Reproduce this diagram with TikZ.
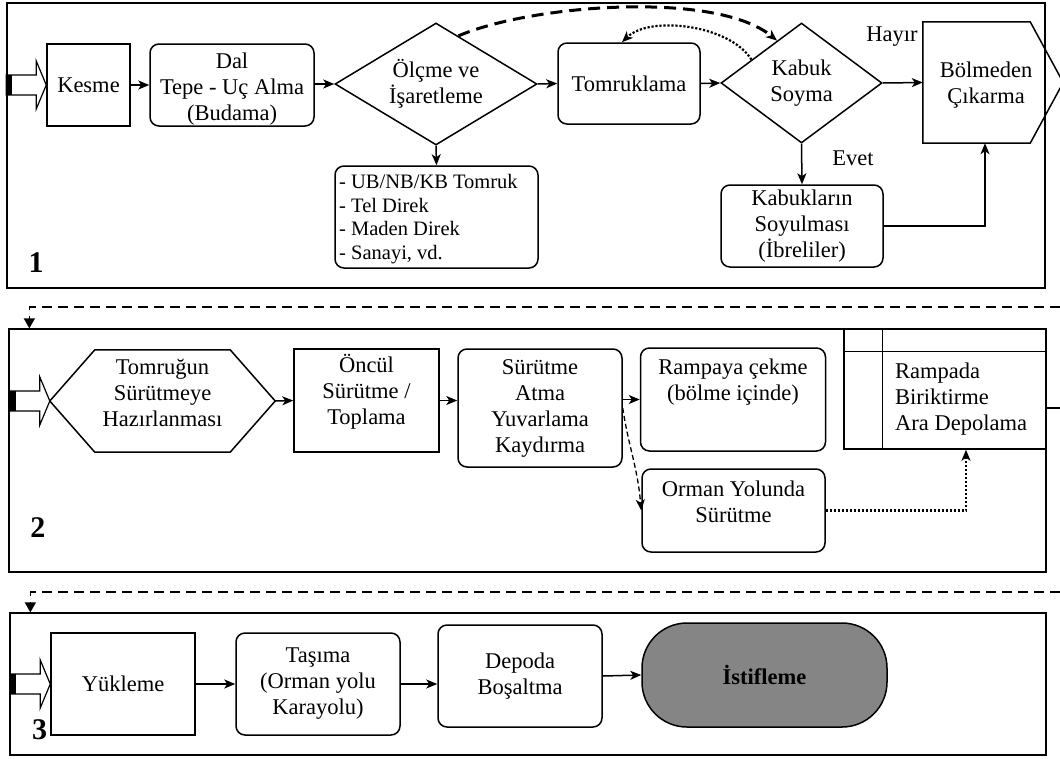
\documentclass[tikz,border=0pt]{standalone}
\usepackage{fontspec}
\setmainfont{Liberation Serif}
\usetikzlibrary{arrows.meta,calc,shapes.geometric}

\tikzset{
  box/.style={draw, line width=1.5pt, inner sep=2pt, align=center},
  rbox/.style={box, rounded corners=9pt},
  dia/.style={draw, diamond, line width=1.5pt, inner sep=0pt, align=center},
  ghost/.style={inner sep=0pt, align=center},
  panel/.style={draw, line width=1.3pt, inner sep=0pt},
  num/.style={font=\fontsize{30}{30}\selectfont\bfseries},
  arr/.style={line width=1.5pt, -{Stealth[length=11pt,width=9pt,inset=3pt]}},
  dots/.style={arr, line width=2.2pt, dash pattern=on 2.2pt off 1.8pt},
  link/.style={line width=1.6pt, dash pattern=on 10pt off 6pt, -{Triangle[length=10pt,width=11pt]}}
}

\begin{document}
\begin{tikzpicture}[x=1pt, y=-1pt, font=\fontsize{22.5}{26}\selectfont]
  \path[use as bounding box, fill=white] (0,0) rectangle (1060,758);
  % panels
  \node[panel, minimum width=1038pt, minimum height=285pt] (p1) at (526,145.5) {};
  \node[panel, minimum width=1037pt, minimum height=243pt] (p2) at (527.5,450.5) {};
  \node[panel, minimum width=1036pt, minimum height=142pt] (p3) at (528,684) {};
  \node[num] (n1) at (36,263) {1};
  \node[num] (n2) at (38,528) {2};
  \node[num] (n3) at (39.5,730) {3};

  % 1
  \node[box, minimum width=83pt, minimum height=82pt] (kes) at (88.5,85) {Kesme};
  \node[rbox, minimum width=164pt, minimum height=82pt] (dal) at (232,85) {};
  \node[ghost] (daltxt) at (232,89) {Dal\\Tepe - Uç Alma\\(Budama)};
  \node[dia, aspect=1.65, minimum width=202pt, minimum height=122pt] (olc) at (436,84) {Ölçme ve\\İşaretleme};
  \node[rbox, minimum width=203pt, minimum height=102pt] (lst) at (436.5,217) {};
  \node[ghost, align=left, anchor=west, font=\fontsize{20.5}{23.5}\selectfont] (lsttxt) at (339,219)
    {- UB/NB/KB Tomruk\\- Tel Direk\\- Maden Direk\\- Sanayi, vd.};
  \node[rbox, minimum width=142pt, minimum height=81pt] (tomr) at (629,83.5) {Tomruklama};
  \node[dia, aspect=1.35, minimum width=161pt, minimum height=120pt] (kab) at (801.5,83) {Kabuk\\Soyma};
  \node[ghost, minimum width=140pt, minimum height=121pt] (bolme) at (993,82.5) {};
  \node[ghost] (bolmetxt) at (986,85) {Bölmeden\\Çıkarma};
  \draw[line width=1.5pt] (bolme.north west) -- ([xshift=-33pt]bolme.north east) -- (bolme.east)
    -- ([xshift=-33pt]bolme.south east) -- (bolme.south west) -- cycle;
  \node[rbox, minimum width=162pt, minimum height=82pt] (kabs) at (802,226) {Kabukların\\Soyulması\\(İbreliler)};
  \node (hayir) at (892,37) {Hayır};
  \node (evet) at (853,158) {Evet};

  \draw[arr] (kes.east) -- (dal.west);
  \draw[arr] (dal.east |- olc.west) -- (olc.west);
  \draw[arr] (olc.east) -- (tomr.west);
  \draw[arr] (olc.south) -- (lst.north);
  \draw[arr] (tomr.east) -- (kab.west);
  \draw[arr] (kab.east) -- (bolme.west);
  \draw[arr] (kab.south) -- (kabs.north);
  \draw[arr] (kabs.east) -| ([xshift=-8pt]bolme.south);
  \draw[arr, line width=3pt, dash pattern=on 12pt off 7pt] (olc.65) .. controls (530,5) and (715,-10) .. (kab.120);
  \draw[dots] (kab.155) .. controls (730,25) and (650,15) .. ([xshift=-7pt]tomr.north);

  % 2
  \node[ghost, minimum width=225pt, minimum height=102pt] (hex) at (162.5,401) {};
  \node[ghost] (hextxt) at (162.5,393) {Tomruğun\\Sürütmeye\\Hazırlanması};
  \draw[line width=1.5pt] (hex.west) -- ([xshift=45pt]hex.north west) -- ([xshift=-45pt]hex.north east)
    -- (hex.east) -- ([xshift=-45pt]hex.south east) -- ([xshift=45pt]hex.south west) -- cycle;
  \node[box, minimum width=145pt, minimum height=103pt] (onc) at (366.5,400.5) {};
  \node[ghost] (onctxt) at (366.5,392) {Öncül\\Sürütme /\\Toplama};
  \node[rbox, minimum width=164pt, minimum height=118pt] (sur) at (540,408) {Sürütme\\Atma\\Yuvarlama\\Kaydırma};
  \node[rbox, minimum width=185pt, minimum height=103pt] (ramp) at (733,399.5) {};
  \node[ghost] (ramptxt) at (733,382) {Rampaya çekme\\(bölme içinde)};
  \node[rbox, minimum width=183pt, minimum height=83pt] (orm) at (733.5,510.5) {};
  \node[ghost] (ormtxt) at (733.5,502) {Orman Yolunda\\Sürütme};
  \node[box, minimum width=202pt, minimum height=120pt] (ramda) at (945,389) {};
  \draw[line width=1.5pt] ([yshift=-23pt]ramda.north west) -- ([yshift=-23pt]ramda.north east)
    ([xshift=39pt]ramda.north west) -- ([xshift=39pt]ramda.south west);
  \node[ghost, align=left, anchor=west] (ramdatxt) at (895,399) {Rampada\\Biriktirme\\Ara Depolama};
  \coordinate (rout) at (1060,408);
  \draw[line width=1.2pt] ([yshift=-19pt]ramda.east) -- (rout);

  \draw[arr] (hex.east) -- (onc.west);
  \draw[arr] (onc.east) -- (onc.east -| sur.west);
  \draw[arr] (sur.east |- ramp.west) -- (ramp.west);
  \draw[arr, line width=1.3pt, dash pattern=on 5pt off 3pt] (sur.east) .. controls +(6,40) and +(-4,-45) .. (orm.west);
  \draw[dots] (orm.east) -| ([xshift=21pt]ramda.south);

  % 3
  \node[box, minimum width=144pt, minimum height=102pt] (yuk) at (123,684) {Yükleme};
  \node[rbox, minimum width=164pt, minimum height=102pt] (tas) at (318,684) {Taşıma\\(Orman yolu\\Karayolu)};
  \node[rbox, minimum width=164pt, minimum height=102pt] (dep) at (520,676) {Depoda\\Boşaltma};
  \node[box, rounded corners=45pt, fill=black!48, minimum width=245pt, minimum height=104pt,
    font=\fontsize{22.5}{26}\selectfont\bfseries] (ist) at (764.5,675) {İstifleme};

  \draw[arr] (yuk.east) -- (tas.west);
  \draw[arr] (tas.east) -- (tas.east -| dep.west);
  \draw[arr] (dep.east) -- (ist.west);

  % inputs and links
  \foreach \t in {kes,hex,yuk} {
    \draw[line width=1.2pt, fill=white] ($(\t.west)+(-40,-10)$) -- ++(30,0) -- ++(0,-14) -- (\t.west)
      -- ($(\t.west)+(-10,24)$) -- ++(0,-14) -- ++(-30,0) -- cycle;
    \fill ($(\t.west)+(-40,-10)$) rectangle ++(6,20);
  }
  \coordinate (d1) at (1060,307);
  \coordinate (d2) at (1060,592);
  \draw[link] (d1) -| ([xshift=21pt]p2.north west);
  \draw[link] (d2) -| ([xshift=21pt]p3.north west);
\end{tikzpicture}
\end{document}
